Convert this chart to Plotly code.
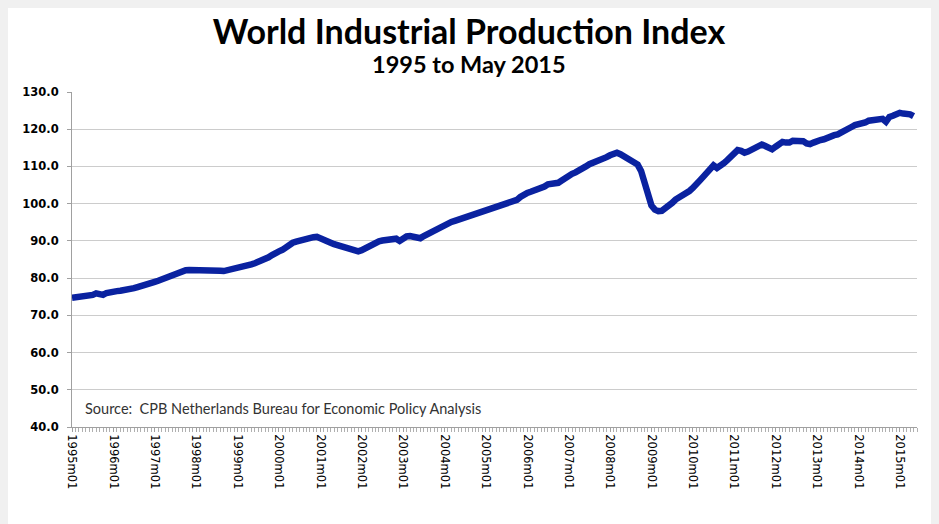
import plotly.graph_objects as go

# Monthly world industrial production index values
y1995 = [74.7, 74.8, 74.9, 75.1, 75.2, 75.3, 75.5, 75.9, 75.7, 75.5, 76.0, 76.3]
y1996 = [76.4, 76.5, 76.6, 76.7, 76.9, 77.1, 77.3, 77.6, 77.8, 78.1, 78.4, 78.6]
y1997 = [79.0, 79.3, 79.7, 80.1, 80.5, 80.9, 81.2, 81.5, 81.9, 82.1, 82.2, 82.2]
y1998 = [82.2, 82.3, 82.2, 82.4, 82.3, 82.2, 82.1, 82.0, 81.9, 82.1, 82.2, 82.3]
y1999 = [82.5, 82.8, 83.1, 83.4, 83.7, 84.0, 84.3, 84.7, 85.0, 85.6, 86.2, 86.9]
y2000 = [87.2, 87.6, 88.3, 88.9, 89.5, 89.8, 90.1, 90.5, 90.7, 90.8, 91.0, 91.1]
y2001 = [90.8, 90.4, 89.9, 89.5, 89.1, 88.8, 88.6, 88.4, 88.0, 87.5, 87.3, 87.2]
y2002 = [87.5, 88.0, 88.6, 89.1, 89.6, 89.9, 90.1, 90.2, 90.4, 90.5, 90.6, 90.0]
y2003 = [90.8, 91.2, 91.3, 91.0, 90.6, 90.7, 91.3, 91.8, 92.3, 92.9, 93.5, 93.9]
y2004 = [94.3, 94.8, 95.1, 95.4, 95.7, 96.0, 96.3, 96.5, 96.8, 97.1, 97.4, 97.8]
y2005 = [98.1, 98.5, 98.8, 99.2, 99.5, 99.8, 100.0, 100.2, 100.5, 101.0, 101.8, 102.6]
y2006 = [102.9, 103.2, 103.5, 103.8, 104.1, 104.6, 105.2, 105.3, 105.4, 105.6, 106.2, 106.9]
y2007 = [107.6, 108.0, 108.4, 108.8, 109.4, 110.0, 110.6, 110.9, 111.2, 111.5, 112.0, 112.5]
y2008 = [113.0, 113.6, 113.7, 113.3, 112.8, 112.2, 111.8, 111.4, 110.5, 108.8, 106.0, 102.8]
y2009 = [99.5, 98.4, 98.0, 98.1, 98.7, 99.4, 100.2, 101.1, 101.6, 102.2, 102.7, 103.4]
y2010 = [104.2, 105.0, 106.2, 107.2, 108.2, 109.2, 110.3, 109.6, 110.1, 110.9, 111.7, 112.5]
y2011 = [113.3, 114.4, 114.2, 113.7, 114.0, 114.6, 115.2, 115.6, 115.9, 115.5, 115.0, 114.6]
y2012 = [115.3, 116.0, 116.6, 116.4, 116.4, 116.9, 116.8, 116.9, 116.8, 116.2, 116.0, 116.4]
y2013 = [116.9, 117.1, 117.3, 117.8, 118.2, 118.4, 118.6, 119.0, 119.5, 120.0, 120.6, 121.1]
y2014 = [121.2, 121.3, 121.8, 122.3, 122.5, 122.7, 122.7, 122.8, 122.0, 123.3, 123.6, 124.0]
y2015 = [124.4, 124.2, 124.3, 124.0, 123.5]

years = list(range(1995, 2016))
tick_labels = [f"{yr}m01" for yr in years]

values = (y1995 + y1996 + y1997 + y1998 + y1999 + y2000 + y2001 + y2002 + y2003
          + y2004 + y2005 + y2006 + y2007 + y2008 + y2009 + y2010 + y2011
          + y2012 + y2013 + y2014 + y2015)
month_idx = list(range(len(values)))
tick_positions = [12 * i for i in range(len(years))]

fig = go.Figure()
fig.add_trace(go.Scatter(
    x=month_idx, y=values, mode="lines",
    line=dict(color="#0a22a0", width=6.5),
    hoverinfo="skip", showlegend=False,
))

# plot area in figure px: left 64, right 909, top 84, bottom 419
fig.update_layout(
    width=939, height=524,
    margin=dict(l=64, r=30, t=84, b=105),
    paper_bgcolor="white", plot_bgcolor="white",
    title=dict(
        text="<b>World Industrial Production Index</b>",
        x=(461 - 0) / 939, xanchor="center", y=1 - 24 / 524, yanchor="middle",
        font=dict(family="Lato", size=34, color="black"),
    ),
    xaxis=dict(
        range=[0, 245],
        tickmode="array", tickvals=tick_positions, ticktext=tick_labels,
        tickangle=90,
        tickfont=dict(family="DejaVu Sans", size=11.5, color="black"),
        ticks="outside", ticklen=4, tickcolor="#a0a0a0",
        minor=dict(dtick=1, ticks="outside", ticklen=4, tickcolor="#b0b0b0", showgrid=False),
        showline=True, linecolor="#a0a0a0", linewidth=1,
        showgrid=False, zeroline=False,
    ),
    yaxis=dict(
        range=[40, 130], dtick=10, tickformat=".1f",
        tickfont=dict(family="DejaVu Sans", size=11.5, color="black", weight="bold"),
        ticks="outside", ticklen=4, tickcolor="#a0a0a0",
        ticklabelstandoff=6,
        showline=True, linecolor="#a0a0a0", linewidth=1,
        showgrid=True, gridcolor="#cccccc", gridwidth=1,
        zeroline=False,
    ),
    annotations=[
        dict(text="<b>1995 to May 2015</b>", xref="paper", yref="paper",
             x=(461 - 64) / 845, y=(419 - 56) / 335, xanchor="center", yanchor="middle",
             showarrow=False, font=dict(family="Lato", size=23.5, color="black")),
        dict(text="Source:\u00a0 CPB Netherlands Bureau for Economic Policy Analysis",
             xref="paper", yref="paper",
             x=(75 - 64) / 845, y=(419 - 400) / 335, xanchor="left", yanchor="middle",
             showarrow=False, font=dict(family="Lato", size=14.5, color="#333333")),
    ],
)

fig.write_html(
    "out.html",
    post_script="document.body.style.background='#f0f0f0';"
                "document.body.style.overflow='hidden';"
                "document.documentElement.style.overflow='hidden';",
)
